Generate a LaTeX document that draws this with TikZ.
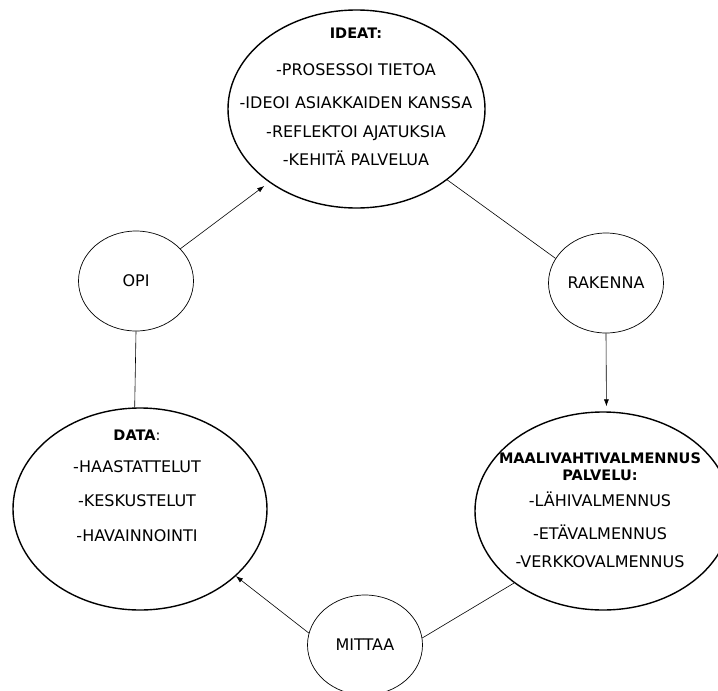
\documentclass[tikz,border=0pt]{standalone}
\usepackage{fontspec}
\setmainfont{DejaVu Sans}
\usetikzlibrary{shapes.geometric,arrows.meta}

\tikzset{
  bigell/.style={ellipse,draw,line width=1.4pt,inner sep=0pt},
  smallell/.style={ellipse,draw,line width=0.7pt,inner sep=0pt,
    minimum width=115pt,minimum height=100pt,font=\fontsize{16}{18}\selectfont},
  txt/.style={align=center,inner sep=0pt,font=\fontsize{16}{18}\selectfont},
  link/.style={draw=black,line width=0.6pt},
  tip/.style={-{Latex[length=7pt,width=5pt]}}
}
\newcommand{\hd}[1]{{\fontsize{14.5}{17}\selectfont\bfseries #1}}

\begin{document}
\begin{tikzpicture}[x=1pt,y=-1pt]
\useasboundingbox (0,0) rectangle (718,691);

\begin{scope}[every node/.style={bigell}]
    \node[minimum width=257pt,minimum height=198pt] (ideat) at (356.5,109) {};
    \node[minimum width=254pt,minimum height=202pt] (data) at (140,509) {};
    \node[minimum width=256pt,minimum height=198pt] (maali) at (603,511) {};
\end{scope}

\begin{scope}[every node/.style={txt}]
    \node (ideat-txt) at (356,97) {\hd{IDEAT:}\\[19pt]
        -PROSESSOI TIETOA\\[15pt]
        -IDEOI ASIAKKAIDEN KANSSA\\[11pt]
        -REFLEKTOI AJATUKSIA\\[10pt]
        -KEHITÄ PALVELUA};
    \node (data-txt) at (137,486) {{\fontsize{14.5}{17}\selectfont\textbf{DATA}:}\\[14pt]
        -HAASTATTELUT\\[16pt]
        -KESKUSTELUT\\[17pt]
        -HAVAINNOINTI};
    \node (maali-txt) at (600,510) {\hd{MAALIVAHTIVALMENNUS}\\[-1pt]
        \hd{PALVELU:}\\[8pt]
        -LÄHIVALMENNUS\\[15pt]
        -ETÄVALMENNUS\\[10pt]
        -VERKKOVALMENNUS};
\end{scope}

\begin{scope}[every node/.style={smallell}]
    \node (opi) at (136,281) {OPI};
    \node (rakenna) at (606,283) {RAKENNA};
    \node (mittaa) at (365,645) {MITTAA};
\end{scope}

\begin{scope}[every edge/.style={link}]
    \path (opi.36) edge[tip,shorten >=6pt] (ideat.220);
    \path (ideat.-38) edge (rakenna.154);
    \path (rakenna.south) edge[tip,shorten >=5pt] (maali.88);
    \path (maali.219) edge (mittaa.7);
    \path (mittaa.168) edge[tip] (data.-35);
    \path (opi.south) edge (data.93);
\end{scope}
\end{tikzpicture}
\end{document}
